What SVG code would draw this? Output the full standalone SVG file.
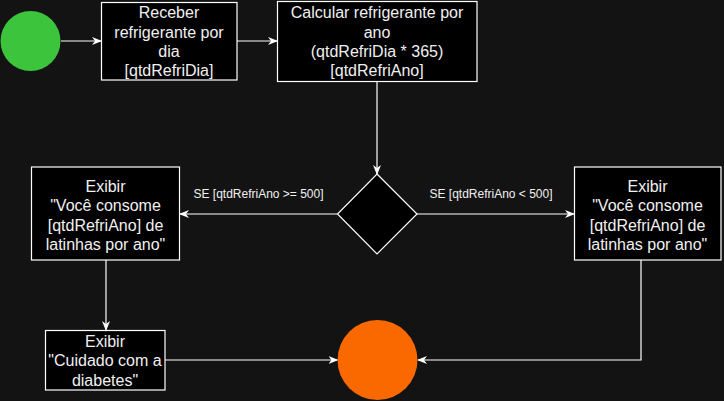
<svg xmlns="http://www.w3.org/2000/svg" width="724" height="401" viewBox="0 0 724 401">
<defs>
<marker id="arr" markerWidth="10" markerHeight="8" refX="9" refY="4" orient="auto" markerUnits="userSpaceOnUse">
<path d="M0,0 L10,4 L0,8 L3,4 Z" fill="#ffffff"/>
</marker>
<style>
.box{fill:#000000;stroke:#ffffff;stroke-width:1.2}
.t{font-family:"Liberation Sans",Arial,sans-serif;font-size:16px;fill:#f0f0f0;text-anchor:middle}
.lbl{font-family:"Liberation Sans",Arial,sans-serif;font-size:12px;fill:#f0f0f0;text-anchor:middle}
.c{fill:none;stroke:#ffffff;stroke-width:1.2;marker-end:url(#arr)}
</style>
</defs>
<rect width="724" height="401" fill="#131313"/>
<g id="connectors">
<path class="c" d="M61,41 L101,41"/>
<path class="c" d="M237,41 L277,41"/>
<path class="c" d="M377,82 L377,174"/>
<path class="c" d="M337.5,214 L180,214"/>
<path class="c" d="M417,214 L574,214"/>
<path class="c" d="M106,260 L106,330"/>
<path class="c" d="M165,360 L337.5,360"/>
<path class="c" d="M641,260 L641,360 L418,360"/>
<text class="lbl" x="258.5" y="198">SE [qtdRefriAno &gt;= 500]</text>
<text class="lbl" x="491" y="198">SE [qtdRefriAno &lt; 500]</text>
</g>
<g id="start">
<circle cx="30.5" cy="41" r="30" fill="#3cc43c"/>
</g>
<g id="receber">
<rect class="box" x="101.5" y="2.5" width="135.5" height="77.5"/>
<text class="t" x="169" y="18.3">Receber</text>
<text class="t" x="169" y="37.6">refrigerante por</text>
<text class="t" x="169" y="56.9">dia</text>
<text class="t" x="169" y="76.2">[qtdRefriDia]</text>
</g>
<g id="calcular">
<rect class="box" x="277.5" y="1.5" width="199.5" height="80"/>
<text class="t" x="377" y="18.3">Calcular refrigerante por</text>
<text class="t" x="377" y="37.6">ano</text>
<text class="t" x="377" y="56.9"> (qtdRefriDia * 365)</text>
<text class="t" x="377" y="76.2">[qtdRefriAno]</text>
</g>
<g id="decisao">
<path class="box" d="M377,174 L417,214 L377,254 L337.5,214 Z"/>
</g>
<g id="exibir-esq">
<rect class="box" x="31.5" y="167" width="148" height="93"/>
<text class="t" x="105.5" y="192.3">Exibir</text>
<text class="t" x="105.5" y="211.3">"Você consome</text>
<text class="t" x="105.5" y="230.6">[qtdRefriAno] de</text>
<text class="t" x="105.5" y="249.6">latinhas por ano"</text>
</g>
<g id="exibir-dir">
<rect class="box" x="574.5" y="167" width="146.5" height="93"/>
<text class="t" x="647.5" y="192.3">Exibir</text>
<text class="t" x="647.5" y="211.3">"Você consome</text>
<text class="t" x="647.5" y="230.6">[qtdRefriAno] de</text>
<text class="t" x="647.5" y="249.6">latinhas por ano"</text>
</g>
<g id="cuidado">
<rect class="box" x="45.5" y="330.5" width="119.5" height="59.5"/>
<text class="t" x="105" y="347.3">Exibir</text>
<text class="t" x="105" y="366.3">"Cuidado com a</text>
<text class="t" x="105" y="385.6">diabetes"</text>
</g>
<g id="fim">
<ellipse cx="377.5" cy="360" rx="40" ry="40" fill="#fa6800"/>
</g>
</svg>
